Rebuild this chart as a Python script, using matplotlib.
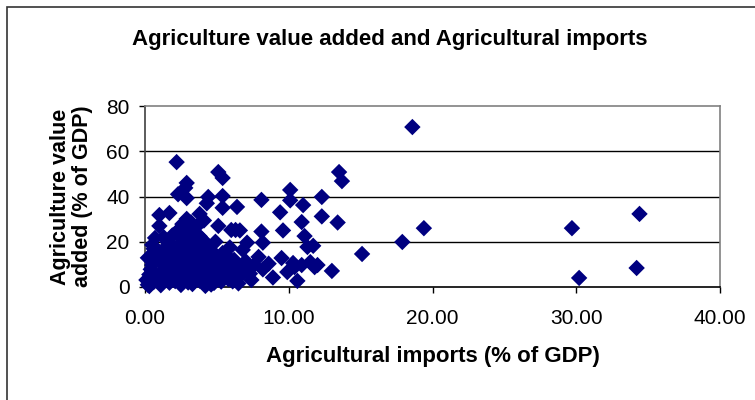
import matplotlib
matplotlib.use("Agg")
import matplotlib.pyplot as plt
from matplotlib.patches import Rectangle

# Agricultural imports (% of GDP) vs Agriculture value added (% of GDP)
imports_pct = [
    18.6, 13.5, 13.7, 12.3, 11.0, 10.1, 10.1, 12.3, 10.9, 13.4,
    11.1, 11.3, 11.7, 15.1, 17.9, 19.4, 11.5, 11.8, 10.4, 10.9,
    13.0, 10.6, 29.7, 34.4, 30.2, 34.2, 8.1, 9.4, 6.4, 6.3,
    6.6, 8.1, 9.6, 8.2, 7.1, 6.8, 7.9, 9.5, 9.9, 12.0,
    8.9, 7.4, 10.3, 2.2, 5.1, 5.4, 2.9, 2.8, 2.3, 2.9,
    4.4, 4.3, 5.4, 5.4, 1.0, 1.7, 3.8, 5.1, 6.0, 0.7,
    0.7, 0.5, 0.1,
    0.2, 0.3, 0.4, 0.6, 0.8, 0.9, 1.1, 1.2, 1.3, 1.4,
    1.5, 1.6, 1.7, 1.8, 1.9, 1.9, 2.0, 2.0, 2.1, 2.2,
    2.3, 2.3, 2.4, 2.5, 2.5, 2.6, 2.6, 2.7, 2.8, 2.8,
    2.9, 2.9, 3.0, 3.0, 3.1, 3.1, 3.2, 3.3, 3.3, 3.4,
    3.5, 3.5, 3.6, 3.7, 3.7, 3.8, 3.9, 4.0, 4.0, 4.1,
    4.2, 4.3, 4.3, 4.4, 4.5, 4.6, 4.7, 4.8, 4.9, 5.0,
    5.1, 5.2, 5.3, 5.4, 5.5, 5.6, 5.8, 5.9, 6.0, 6.2,
    6.3, 6.5, 6.6, 6.8, 7.0, 7.2, 7.6, 8.2, 8.6, 3.2,
    3.6, 4.1, 1.3, 2.2, 0.5, 1.0, 0.3, 1.0, 1.6, 2.4,
    3.0, 3.8, 4.6, 5.2, 5.7, 6.1, 7.3, 0.2, 0.6, 1.4,
]
value_added_pct = [
    70.7, 50.8, 46.8, 39.8, 36.2, 42.9, 38.3, 31.2, 28.7, 28.5,
    22.5, 17.7, 18.2, 14.6, 19.9, 26.0, 11.0, 8.8, 8.8, 9.7,
    7.1, 2.7, 26.0, 32.3, 4.0, 8.4, 38.5, 33.0, 35.4, 25.2,
    25.0, 24.5, 25.0, 19.6, 19.6, 16.4, 13.3, 12.8, 6.6, 9.7,
    4.2, 3.1, 10.6, 55.2, 50.8, 48.2, 46.0, 43.8, 41.0, 39.3,
    39.8, 37.0, 40.2, 35.0, 31.8, 32.7, 32.3, 27.0, 25.2, 21.7,
    17.2, 9.7, 3.1,
    1.0, 5.5, 7.8, 2.2, 4.6, 12.4, 0.8, 6.9, 9.5, 3.3,
    14.8, 19.7, 1.9, 11.2, 5.1, 22.8, 8.3, 16.5, 2.6, 13.4,
    24.9, 6.2, 19.0, 10.1, 0.9, 27.8, 15.3, 4.0, 21.5, 8.9,
    30.1, 12.2, 2.0, 17.6, 6.8, 25.3, 10.7, 20.2, 1.3, 14.3,
    4.6, 23.1, 8.0, 18.4, 11.8, 2.8, 15.9, 6.0, 21.0, 9.4,
    0.5, 13.1, 18.9, 3.7, 7.3, 16.2, 10.5, 1.8, 20.0, 5.2,
    12.9, 8.6, 2.4, 15.0, 6.4, 10.0, 3.5, 17.5, 8.1, 12.0,
    4.8, 1.6, 9.0, 6.2, 11.4, 7.5, 9.8, 7.8, 10.3, 28.6,
    26.8, 29.4, 22.0, 24.3, 18.6, 27.0, 0.4, 14.0, 7.0, 3.0,
    9.2, 22.4, 1.1, 4.1, 13.8, 2.5, 5.9, 12.9, 16.9, 17.3,
]

fig = plt.figure(figsize=(7.55, 4.0), dpi=100)
fig.patch.set_facecolor("white")

# outer chart frame (cut off at right and bottom like the original)
fig.add_artist(Rectangle((7 / 755, -0.1), 1.2, 1 - 7 / 400 + 0.1,
                         transform=fig.transFigure, fill=False,
                         edgecolor="#333333", linewidth=1.2))

ax = fig.add_axes([145 / 755, 1 - 287 / 400, (720 - 145) / 755, (287 - 106) / 400])

ax.scatter(imports_pct, value_added_pct, marker="D", s=70, color="#000080",
           edgecolors="none", zorder=3, clip_on=False)

ax.set_xlim(0, 40)
ax.set_ylim(0, 80)
ax.set_xticks([0, 10, 20, 30, 40])
ax.set_xticklabels(["0.00", "10.00", "20.00", "30.00", "40.00"])
ax.set_yticks([0, 20, 40, 60, 80])

for y in [20, 40, 60]:
    ax.axhline(y, color="black", linewidth=1.0, zorder=1)

ax.spines["top"].set_color("#808080")
ax.spines["right"].set_color("#808080")
ax.spines["left"].set_color("#404040")
ax.spines["bottom"].set_color("black")
for s in ax.spines.values():
    s.set_linewidth(1.2)

ax.tick_params(axis="both", direction="out", length=4, width=1, colors="black",
               labelsize=15)
ax.tick_params(axis="x", pad=12)
ax.tick_params(axis="y", pad=7)
for lab in ax.get_xticklabels() + ax.get_yticklabels():
    lab.set_family("Liberation Sans")

fig.text(390 / 755, 1 - 45 / 400, "Agriculture value added and Agricultural imports",
         fontsize=16, fontweight="bold", family="Liberation Sans",
         ha="center", va="baseline")

ax.set_xlabel("Agricultural imports (% of GDP)", fontsize=16, fontweight="bold",
              family="Liberation Sans")
ax.xaxis.set_label_coords(0.5, (287 - 346) / 181)
ax.set_ylabel("Agriculture value\nadded (% of GDP)", fontsize=15.5, fontweight="bold",
              family="Liberation Sans", linespacing=1.05)
ax.yaxis.set_label_coords((93 - 145) / 575, 0.5)

fig.savefig("out.png", dpi=100)
